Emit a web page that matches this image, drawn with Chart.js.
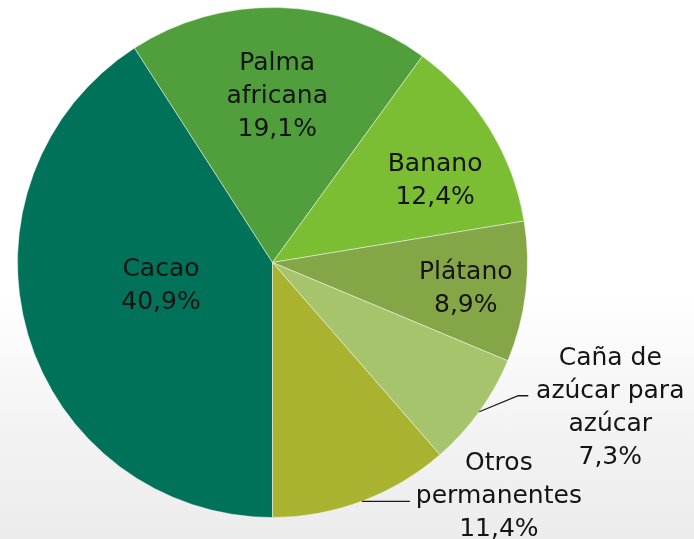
<!DOCTYPE html>
<html>
<head>
<meta charset="utf-8">
<script src="https://cdn.jsdelivr.net/npm/chart.js@4"></script>
<style>
  html, body { margin: 0; padding: 0; }
  body { width: 694px; height: 539px; overflow: hidden;
    background: linear-gradient(to bottom, #ffffff 0%, #ffffff 55%, #f3f3f3 80%, #ececec 100%); }
  #wrap { position: relative; width: 694px; height: 539px; }
</style>
</head>
<body>
<div id="wrap"><canvas id="c" width="694" height="539"></canvas></div>
<script>
const categories = ["Cacao", "Palma africana", "Banano", "Plátano", "Caña de azúcar para azúcar", "Otros permanentes"];
const values = [40.9, 19.1, 12.4, 8.9, 7.3, 11.4];
const labelLines = [
  ["Cacao", "40,9%"],
  ["Palma", "africana", "19,1%"],
  ["Banano", "12,4%"],
  ["Plátano", "8,9%"],
  ["Caña de", "azúcar para", "azúcar", "7,3%"],
  ["Otros", "permanentes", "11,4%"]
];
const colors = ["#00725A", "#519E3C", "#7BBD33", "#84A646", "#A5C46B", "#A9B32F"];

const FONT = '25px "DejaVu Sans"';
const LINE_H = 33;

// inner labels: radial fraction + angular shift (deg); outside labels use leader lines
const labelPlacement = [
  { r: 0.447, shift: 4.5 },
  { r: 0.652, shift: 0 },
  { r: 0.713, shift: 5.1 },
  { r: 0.765, shift: 1.2 },
  { outside: true, elbow: [39, -16], end: [10, 0], text: [82, -37] },
  { outside: true, elbow: [0, 0], end: [48, 0], text: [89, -38] }
];

const labelPlugin = {
  id: 'sliceLabels',
  afterDatasetsDraw(chart) {
    const ctx = chart.ctx;
    const meta = chart.getDatasetMeta(0);
    ctx.save();
    ctx.font = FONT;
    ctx.fillStyle = '#141414';
    ctx.textAlign = 'center';
    ctx.textBaseline = 'middle';
    meta.data.forEach((arc, i) => {
      const p = arc.getProps(['x', 'y', 'startAngle', 'endAngle', 'outerRadius'], true);
      const mid = (p.startAngle + p.endAngle) / 2;
      const lines = labelLines[i];
      const pl = labelPlacement[i];
      if (!pl.outside) {
        const a = mid + pl.shift * Math.PI / 180;
        const cx = p.x + Math.cos(a) * p.outerRadius * pl.r;
        const cy = p.y + Math.sin(a) * p.outerRadius * pl.r;
        const y0 = cy - (lines.length - 1) * LINE_H / 2;
        lines.forEach((t, k) => ctx.fillText(t, cx, y0 + k * LINE_H));
      } else {
        const sx = p.x + Math.cos(mid) * p.outerRadius;
        const sy = p.y + Math.sin(mid) * p.outerRadius;
        const ex = sx + pl.elbow[0], ey = sy + pl.elbow[1];
        const fx = ex + pl.end[0], fy = ey + pl.end[1];
        ctx.strokeStyle = '#1a1a1a';
        ctx.lineWidth = 1.3;
        ctx.beginPath();
        ctx.moveTo(sx, sy);
        ctx.lineTo(ex, ey);
        ctx.lineTo(fx, fy);
        ctx.stroke();
        const tx = fx + pl.text[0];
        const ty = fy + pl.text[1];
        lines.forEach((t, k) => ctx.fillText(t, tx, ty + k * LINE_H));
      }
    });
    ctx.restore();
  }
};

new Chart(document.getElementById('c'), {
  type: 'pie',
  data: {
    labels: categories,
    datasets: [{
      data: values,
      backgroundColor: colors,
      borderColor: 'rgba(255,255,255,0.45)',
      borderWidth: 1
    }]
  },
  options: {
    responsive: false,
    animation: false,
    rotation: 180,
    layout: { padding: { left: 17, right: 166, top: 7, bottom: 21 } },
    plugins: {
      legend: { display: false },
      tooltip: { enabled: false }
    }
  },
  plugins: [labelPlugin]
});
</script>
</body>
</html>
